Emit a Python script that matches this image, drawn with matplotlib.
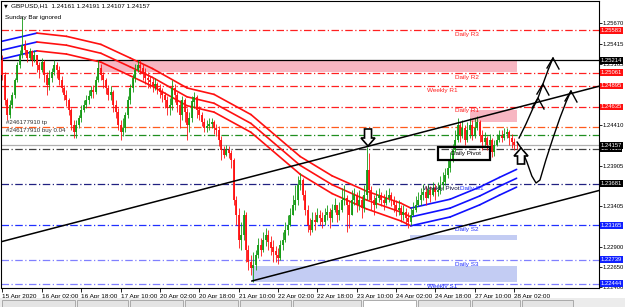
import matplotlib
matplotlib.use('Agg')
import matplotlib.pyplot as plt
import matplotlib.transforms as mtransforms
from matplotlib.patches import Rectangle, Polygon
import numpy as np

plt.rcParams['font.family'] = ['Liberation Sans', 'DejaVu Sans']

# GBPUSD H1 candles, 15 Apr 10:00 .. 28 Apr (Sunday bar ignored)
first_open = 1.2522
closes = [
    1.2503, 1.2472, 1.2453, 1.2466, 1.2478, 1.2497, 1.2515, 1.2528, 1.2540, 1.2534,
    1.2524, 1.2532, 1.2522, 1.2528, 1.2515, 1.2509, 1.2519, 1.2503, 1.2491, 1.2499,
    1.2507, 1.2515, 1.2509, 1.2497, 1.2487, 1.2478, 1.2472, 1.2460, 1.2441, 1.2432,
    1.2441, 1.2450, 1.2460, 1.2466, 1.2472, 1.2477, 1.2484, 1.2482, 1.2497, 1.2512,
    1.2503, 1.2497, 1.2487, 1.2478, 1.2482, 1.2466, 1.2457, 1.2441, 1.2432, 1.2437,
    1.2453, 1.2472, 1.2487, 1.2499, 1.2509, 1.2515, 1.2512, 1.2507, 1.2499, 1.2497,
    1.2494, 1.2489, 1.2492, 1.2487, 1.2482, 1.2478, 1.2472, 1.2462, 1.2466, 1.2487,
    1.2478, 1.2466, 1.2453, 1.2472, 1.2457, 1.2441, 1.2450, 1.2470, 1.2475, 1.2460,
    1.2453, 1.2445, 1.2437, 1.2440, 1.2442, 1.2445, 1.2437, 1.2435, 1.2422, 1.2410,
    1.2404, 1.2410, 1.2406, 1.2398, 1.2348, 1.2329, 1.2298, 1.2305, 1.2329, 1.2286,
    1.2271, 1.2264, 1.2267, 1.2280, 1.2292, 1.2286, 1.2298, 1.2305, 1.2296, 1.2289,
    1.2284, 1.2280, 1.2276, 1.2292, 1.2298, 1.2311, 1.2317, 1.2329, 1.2342, 1.2348,
    1.2367, 1.2373, 1.2354, 1.2336, 1.2317, 1.2311, 1.2323, 1.2321, 1.2329, 1.2326,
    1.2321, 1.2329, 1.2333, 1.2326, 1.2336, 1.2342, 1.2329, 1.2336, 1.2348, 1.2350,
    1.2342, 1.2329, 1.2348, 1.2354, 1.2342, 1.2348, 1.2338, 1.2354, 1.2385, 1.2360,
    1.2348, 1.2342, 1.2350, 1.2354, 1.2348, 1.2344, 1.2350, 1.2354, 1.2348, 1.2342,
    1.2336, 1.2338, 1.2329, 1.2333, 1.2326, 1.2321, 1.2329, 1.2336, 1.2342, 1.2348,
    1.2354, 1.2358, 1.2350, 1.2360, 1.2354, 1.2363, 1.2358, 1.2360, 1.2367, 1.2370,
    1.2379, 1.2388, 1.2398, 1.2410, 1.2422, 1.2441, 1.2429, 1.2437, 1.2422, 1.2435,
    1.2441, 1.2429, 1.2437, 1.2445, 1.2429, 1.2420, 1.2425, 1.2416, 1.2422, 1.2407,
    1.2416, 1.2422, 1.2427, 1.2425, 1.2430, 1.2432, 1.2425, 1.2420, 1.24161, 1.24157,
]
highs = [
    1.2528, 1.2507, 1.2475, 1.2472, 1.2482, 1.2499, 1.2519, 1.2534, 1.2575, 1.2546,
    1.2534, 1.2537, 1.2534, 1.2534, 1.2528, 1.2519, 1.2524, 1.2522, 1.2507, 1.2509,
    1.2512, 1.2522, 1.2519, 1.2514, 1.2502, 1.2491, 1.2484, 1.2475, 1.2462, 1.2447,
    1.2447, 1.2453, 1.2466, 1.2472, 1.2478, 1.2484, 1.2489, 1.2491, 1.2502, 1.2522,
    1.2517, 1.2507, 1.2499, 1.2491, 1.2489, 1.2484, 1.2472, 1.2462, 1.2447, 1.2450,
    1.2457, 1.2477, 1.2492, 1.2504, 1.2517, 1.2522, 1.2522, 1.2517, 1.2512, 1.2507,
    1.2502, 1.2499, 1.2499, 1.2494, 1.2492, 1.2487, 1.2482, 1.2477, 1.2475, 1.2497,
    1.2492, 1.2482, 1.2472, 1.2477, 1.2475, 1.2462, 1.2457, 1.2477, 1.2482, 1.2478,
    1.2465, 1.2457, 1.2450, 1.2447, 1.2450, 1.2450, 1.2447, 1.2442, 1.2440, 1.2427,
    1.2415, 1.2416, 1.2415, 1.2410, 1.2400, 1.2353, 1.2338, 1.2321, 1.2336, 1.2333,
    1.2292, 1.2280, 1.2284, 1.2286, 1.2301, 1.2301, 1.2308, 1.2313, 1.2311, 1.2303,
    1.2298, 1.2291, 1.2289, 1.2298, 1.2308, 1.2321, 1.2329, 1.2338, 1.2354, 1.2367,
    1.2378, 1.2381, 1.2375, 1.2360, 1.2342, 1.2326, 1.2333, 1.2333, 1.2338, 1.2336,
    1.2333, 1.2338, 1.2342, 1.2338, 1.2343, 1.2350, 1.2342, 1.2345, 1.2363, 1.2367,
    1.2354, 1.2348, 1.2360, 1.2363, 1.2358, 1.2360, 1.2353, 1.2367, 1.2414, 1.2406,
    1.2365, 1.2354, 1.2360, 1.2363, 1.2358, 1.2355, 1.2360, 1.2363, 1.2358, 1.2353,
    1.2348, 1.2348, 1.2342, 1.2342, 1.2338, 1.2333, 1.2338, 1.2345, 1.2353, 1.2358,
    1.2363, 1.2368, 1.2365, 1.2368, 1.2365, 1.2370, 1.2368, 1.2370, 1.2378, 1.2383,
    1.2388, 1.2398, 1.2407, 1.2417, 1.2435, 1.2450, 1.2445, 1.2447, 1.2441, 1.2445,
    1.2450, 1.2447, 1.2450, 1.2452, 1.2447, 1.2435, 1.2432, 1.2427, 1.2430, 1.2425,
    1.2422, 1.2430, 1.2435, 1.2435, 1.2437, 1.2437, 1.2435, 1.2430, 1.2425, 1.24191,
]
lows = [
    1.2497, 1.2466, 1.2447, 1.2450, 1.2462, 1.2475, 1.2494, 1.2512, 1.2524, 1.2528,
    1.2519, 1.2522, 1.2514, 1.2519, 1.2507, 1.2499, 1.2507, 1.2494, 1.2478, 1.2484,
    1.2494, 1.2503, 1.2499, 1.2491, 1.2482, 1.2472, 1.2465, 1.2453, 1.2435, 1.2425,
    1.2425, 1.2437, 1.2445, 1.2457, 1.2462, 1.2467, 1.2475, 1.2475, 1.2479, 1.2494,
    1.2497, 1.2487, 1.2479, 1.2472, 1.2472, 1.2457, 1.2450, 1.2435, 1.2422, 1.2427,
    1.2432, 1.2450, 1.2467, 1.2482, 1.2494, 1.2507, 1.2504, 1.2497, 1.2492, 1.2487,
    1.2487, 1.2482, 1.2484, 1.2479, 1.2475, 1.2470, 1.2462, 1.2453, 1.2453, 1.2460,
    1.2470, 1.2457, 1.2437, 1.2447, 1.2445, 1.2422, 1.2432, 1.2445, 1.2462, 1.2450,
    1.2447, 1.2440, 1.2432, 1.2432, 1.2435, 1.2437, 1.2430, 1.2427, 1.2415, 1.2398,
    1.2400, 1.2403, 1.2400, 1.2388, 1.2342, 1.2317, 1.2289, 1.2286, 1.2298, 1.2271,
    1.2261, 1.2255, 1.2246, 1.2261, 1.2276, 1.2279, 1.2284, 1.2291, 1.2286, 1.2280,
    1.2271, 1.2271, 1.2269, 1.2274, 1.2286, 1.2296, 1.2305, 1.2316, 1.2329, 1.2336,
    1.2342, 1.2360, 1.2348, 1.2329, 1.2308, 1.2305, 1.2308, 1.2311, 1.2321, 1.2317,
    1.2313, 1.2317, 1.2323, 1.2313, 1.2321, 1.2333, 1.2321, 1.2323, 1.2333, 1.2342,
    1.2308, 1.2313, 1.2329, 1.2342, 1.2333, 1.2336, 1.2326, 1.2333, 1.2348, 1.2348,
    1.2336, 1.2329, 1.2338, 1.2345, 1.2341, 1.2336, 1.2342, 1.2345, 1.2341, 1.2333,
    1.2328, 1.2329, 1.2321, 1.2323, 1.2317, 1.2313, 1.2317, 1.2328, 1.2333, 1.2341,
    1.2342, 1.2348, 1.2342, 1.2350, 1.2345, 1.2353, 1.2348, 1.2353, 1.2355, 1.2360,
    1.2367, 1.2375, 1.2383, 1.2395, 1.2407, 1.2420, 1.2420, 1.2425, 1.2416, 1.2420,
    1.2425, 1.2422, 1.2425, 1.2435, 1.2420, 1.2410, 1.2415, 1.2410, 1.2412, 1.2401,
    1.2403, 1.2415, 1.2420, 1.2420, 1.2422, 1.2425, 1.2416, 1.2412, 1.2410, 1.24107,
]

# envelope (moving average) middle line, read at a few bars
ma_bars = [0, 14, 26, 40, 52, 61, 75, 86, 101, 121, 134, 148, 162, 166, 182, 194, 202, 209]
ma_mid = [1.2534, 1.2544, 1.2540, 1.2530, 1.2513, 1.2500, 1.2476, 1.2468, 1.2443,
          1.2391, 1.2367, 1.2348, 1.2333, 1.2327, 1.2338, 1.2353, 1.2365, 1.2375]
ma_band = 0.0011

x_tick_bars = [0, 16, 32, 48, 64, 80, 96, 112, 128, 144, 160, 176, 192, 208]
x_tick_labels = ['15 Apr 2020', '16 Apr 02:00', '16 Apr 18:00', '17 Apr 10:00',
                 '20 Apr 02:00', '20 Apr 18:00', '21 Apr 10:00', '22 Apr 02:00',
                 '22 Apr 18:00', '23 Apr 10:00', '24 Apr 02:00', '24 Apr 18:00',
                 '27 Apr 10:00', '28 Apr 02:00']
y_ticks = [1.25670, 1.25415, 1.25165, 1.24910, 1.24655, 1.24410, 1.24155,
           1.23905, 1.23650, 1.23405, 1.23150, 1.22900, 1.22650, 1.22400]
# scale labels hidden behind a price tag in the terminal
y_ticks_hidden = [1.24910, 1.24655, 1.24155, 1.23650, 1.23150]

# (price, colour, linestyle) horizontal lines
h_lines = [
    (1.25583, '#ff2020', '-.'),   # Daily R3
    (1.25214, 'black', '-'),
    (1.25061, '#ff2020', '-.'),   # Daily R2
    (1.24895, '#ff2020', '-.'),   # Weekly R1
    (1.24635, '#ff2020', '-.'),   # Daily R1
    (1.24385, '#ff5a1e', '-.'),   # tp
    (1.24286, '#1f8f1f', '-.'),   # buy 0.04
    (1.24157, '#b0b0b0', '-'),    # bid
    (1.24113, '#404040', '-.'),   # Daily Pivot
    (1.23681, '#202080', '-.'),   # Weekly Pivot / Daily S1
    (1.23165, '#2030ff', '-.'),   # Daily S2
    (1.22739, '#8080ff', '-.'),   # Daily S3
    (1.22444, '#8080ff', '-.'),   # Weekly S1
]
price_tags = [
    (1.25583, '#ff1010'), (1.25214, 'black'), (1.25061, '#ff1010'),
    (1.24895, '#ff1010'), (1.24635, '#ff1010'), (1.24113, 'black'),
    (1.24157, 'black'), (1.23681, 'black'), (1.23165, '#1020ff'),
    (1.22739, '#1020ff'), (1.22444, '#1020ff'),
]
level_labels = [
    ('Daily R3', 184, 1.25538, '#ff2020'),
    ('Daily R2', 184, 1.25005, '#ff2020'),
    ('Weekly R1', 172.5, 1.24832, '#ff2020'),
    ('Daily R1', 184, 1.24584, '#ff2020'),
    ('Daily Pivot', 182.5, 1.24055, 'black'),
    ('Weekly Pivot', 171, 1.23629, '#101040'),
    ('Daily S1', 186, 1.23629, '#2030ff'),
    ('Daily S2', 184, 1.23110, '#2030ff'),
    ('Daily S3', 184, 1.22686, '#2030ff'),
    ('Weekly S1', 172.5, 1.22410, '#2030ff'),
]
# zones: (bar start, bar end, price low, price high, colour)
zones = [
    (39, 209, 1.25070, 1.25214, '#f7b6c2'),
    (190, 209, 1.24450, 1.24600, '#f7b6c2'),
    (165.6, 209, 1.22980, 1.23045, '#c3ccf3'),
    (101.4, 209, 1.22463, 1.22662, '#c3ccf3'),
]
# channel trend lines (two anchor points each)
upper_line = [(0, 1.22967), (240, 1.24871)]
lower_line = [(101.4, 1.22476), (242.5, 1.23598)]

# hand-drawn scenario sketches
sketch_dip = [(209.2, 1.24199), (210.8, 1.24125), (213.2, 1.23951), (215.2, 1.23778),
              (216.9, 1.23691), (218.5, 1.23728), (220.9, 1.23976), (223.8, 1.24249),
              (226.6, 1.24497), (229.1, 1.24695), (231.1, 1.24832)]
sketch_break = [(210.0, 1.24249), (212.8, 1.24422), (215.7, 1.24621), (217.7, 1.24745),
                (219.7, 1.24918), (221.8, 1.25092), (223.8, 1.25241)]
sketch_heads = [(217.7, 1.24745), (219.7, 1.24918), (223.8, 1.25241), (231.1, 1.24832)]

o = np.array([first_open] + closes[:-1])
c = np.array(closes)
h = np.maximum(np.array(highs), np.maximum(o, c))
l = np.minimum(np.array(lows), np.minimum(o, c))
idx = np.arange(len(c))

fig = plt.figure(figsize=(6.25, 3.07), dpi=100)
ax = fig.add_axes([1 / 625, 19 / 307, 598 / 625, 287 / 307])
ax.set_xlim(-0.6, 242.5)
ax.set_ylim(1.22389, 1.25948)


def px(bar, price):
    # shapes given in pixel offsets (y down) around a data anchor
    return mtransforms.Affine2D().scale(1, -1) + mtransforms.ScaledTranslation(bar, price, ax.transData)


for b0, b1, p0, p1, col in zones:
    ax.add_patch(Rectangle((b0, p0), b1 - b0, p1 - p0, fc=col, ec='none', zorder=0.5))

for price, col, ls in h_lines:
    if ls == '-.':
        ax.axhline(price, color=col, lw=0.9, zorder=1, dashes=(6, 2, 1, 2))
    else:
        ax.axhline(price, color=col, lw=0.9, zorder=1)

ax.axline(upper_line[0], upper_line[1], color='black', lw=1.1, zorder=3)
ax.plot([p[0] for p in lower_line], [p[1] for p in lower_line], color='black', lw=1.1, zorder=3)

# envelope lines coloured by trend
for k in range(len(ma_bars) - 1):
    col = '#1010ff' if (ma_bars[k] < 14 or ma_bars[k] >= 166) else '#ff1010'
    for off in (-ma_band, 0, ma_band):
        ax.plot(ma_bars[k:k + 2], [ma_mid[k] + off, ma_mid[k + 1] + off], color=col, lw=1.2,
                zorder=2, solid_capstyle='round')

up = c >= o
colors = np.where(up, '#139a13', '#ff1010')
ax.vlines(idx, l, h, colors=colors, lw=0.6, zorder=2.5)
ax.vlines(idx, np.minimum(o, c), np.maximum(o, c) + 0.00002, colors=colors, lw=1.3, zorder=2.6)

# sketched scenario arrows
ax.plot(*zip(*sketch_dip), color='black', lw=1.0, zorder=4)
ax.plot(*zip(*sketch_break), color='black', lw=1.0, zorder=4)
for b, p in sketch_heads:
    ax.plot([-6, 0, 6], [10, 0, 11], color='black', lw=1.0, transform=px(b, p), zorder=4)

# hollow arrows
down_arrow = [(0, 0), (-7, -8), (-3.5, -8), (-3.5, -17), (3.5, -17), (3.5, -8), (7, -8)]
up_arrow = [(0, 0), (-7, 8), (-3.5, 8), (-3.5, 16), (3.5, 16), (3.5, 8), (7, 8)]
ax.add_patch(Polygon(down_arrow, closed=True, fc='white', ec='black', lw=1.2,
                     transform=px(148.6, 1.24150), zorder=5))
ax.add_patch(Polygon(up_arrow, closed=True, fc='white', ec='black', lw=1.2,
                     transform=px(210.8, 1.24125), zorder=5))

# Daily Pivot box
ax.add_patch(Rectangle((177, 1.23976), 21.2, 0.00161, fc='none', ec='black', lw=1.6, zorder=5))

for txt, b, p, col in level_labels:
    ax.text(b, p, txt, color=col, fontsize=4.6, va='center', ha='left', zorder=6)

ytrans = mtransforms.blended_transform_factory(ax.transAxes, ax.transData)
ax.text(0.008, 1.24447, '#246177910 tp', color='#303030', fontsize=4.4, va='center', transform=ytrans)
ax.text(0.008, 1.24336, '#246177910 buy 0.04', color='#303030', fontsize=4.4, va='center', transform=ytrans)

fig.text(4 / 625, 1 - 6 / 307, '\u25bc', fontsize=3.5, va='center', family='DejaVu Sans')
fig.text(11 / 625, 1 - 6 / 307, 'GBPUSD,H1  1.24161 1.24191 1.24107 1.24157', fontsize=4.6, va='center')
fig.text(5 / 625, 1 - 17 / 307, 'Sunday Bar ignored', fontsize=4.6, va='center')

# axes styling
for s in ax.spines.values():
    s.set_color('black')
    s.set_linewidth(0.8)
ax.yaxis.tick_right()
ax.set_yticks(y_ticks)
ax.set_yticklabels(['' if v in y_ticks_hidden else f'{v:.5f}' for v in y_ticks], fontsize=4.2)
ax.tick_params(axis='y', length=2, width=0.6, pad=0.8)
ax.set_xticks(x_tick_bars)
ax.set_xticklabels(x_tick_labels, fontsize=4.6, ha='left')
ax.tick_params(axis='x', length=3, width=0.6, pad=1.5)

for price, col in price_tags:
    ax.text(1.0025, price, f'{price:.5f}', transform=ytrans, fontsize=4.2, color='white',
            va='center', ha='left', zorder=7, clip_on=False,
            bbox=dict(boxstyle='square,pad=0.15', fc=col, ec='none'))

# bottom tab strip
fig.add_artist(Rectangle((0, 0), 1, 9 / 307, transform=fig.transFigure, fc='#ececec', ec='none'))
tab_edges = [2, 77, 130, 185, 240, 293, 363, 418, 472, 522, 575]
for k in range(len(tab_edges) - 1):
    x0, x1 = tab_edges[k], tab_edges[k + 1] - 2
    fc = 'white' if k == 6 else '#e4e4e4'
    fig.add_artist(Rectangle((x0 / 625, 0), (x1 - x0) / 625, 7 / 307, transform=fig.transFigure,
                             fc=fc, ec='#a0a0a0', lw=0.6))

fig.savefig('out.png', dpi=100)
